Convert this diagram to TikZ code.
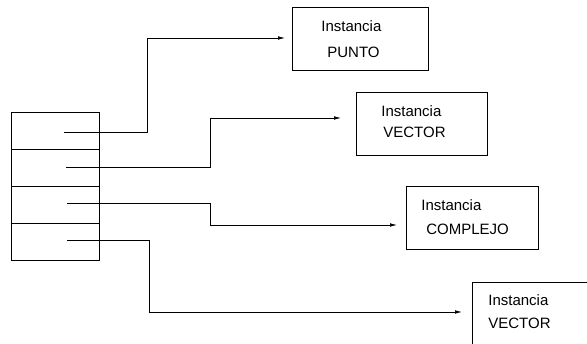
\documentclass[tikz,border=0pt]{standalone}
\usepackage{fontspec}
\setmainfont{Liberation Sans}
\usetikzlibrary{arrows.meta}
\begin{document}
\begin{tikzpicture}[x=1pt,y=-1pt,
  line width=0.7pt,
  cell/.style={draw,minimum width=88pt,minimum height=37pt,inner sep=0pt},
  inst/.style={draw,minimum width=#1,minimum height=63pt,inner sep=0pt},
  inst/.default=132pt,
  lbl/.style={anchor=base west,inner sep=0pt,font=\fontsize{15}{18}\selectfont},
  link/.style={-{Latex[length=7pt,width=3.6pt]}}]
  \useasboundingbox (0,0) rectangle (587,344);
  \clip (0,0) rectangle (587,344);
  % stack of references
  \node[cell] (c1) at (55,130.5) {};
  \node[cell] (c2) at (55,167.5) {};
  \node[cell] (c3) at (55,204.5) {};
  \node[cell] (c4) at (55,242) {};
  % instances
  \node[inst=136pt] (b1) at (360,38.5) {};
  \node[lbl] (b1a) at (321,32) {Instancia};
  \node[lbl] (b1b) at (327,58) {PUNTO};
  \node[inst=131pt] (b2) at (421.5,123.5) {};
  \node[lbl] (b2a) at (381,117) {Instancia};
  \node[lbl] (b2b) at (383,138) {VECTOR};
  \node[inst] (b3) at (472,217.5) {};
  \node[lbl] (b3a) at (421,211) {Instancia};
  \node[lbl] (b3b) at (426,235) {COMPLEJO};
  \node[inst] (b4) at (538,313.5) {};
  \node[lbl] (b4a) at (488,306) {Instancia};
  \node[lbl] (b4b) at (488,329) {VECTOR};
  % reference start points and arrow ends
  \coordinate (p1) at (64,132);
  \coordinate (p2) at (66,167);
  \coordinate (p3) at (67,203);
  \coordinate (p4) at (67,240);
  \coordinate (t1) at (285,38);
  \coordinate (t2) at (341,118);
  \coordinate (t3) at (397,225);
  \coordinate (t4) at (462,312);
  % links
  \draw[link] (p1) -- ++(83,0) |- (t1);
  \draw[link] (p2) -- ++(144,0) |- (t2);
  \draw[link] (p3) -- ++(143,0) |- (t3);
  \draw[link] (p4) -- ++(82,0) |- (t4);
\end{tikzpicture}
\end{document}
